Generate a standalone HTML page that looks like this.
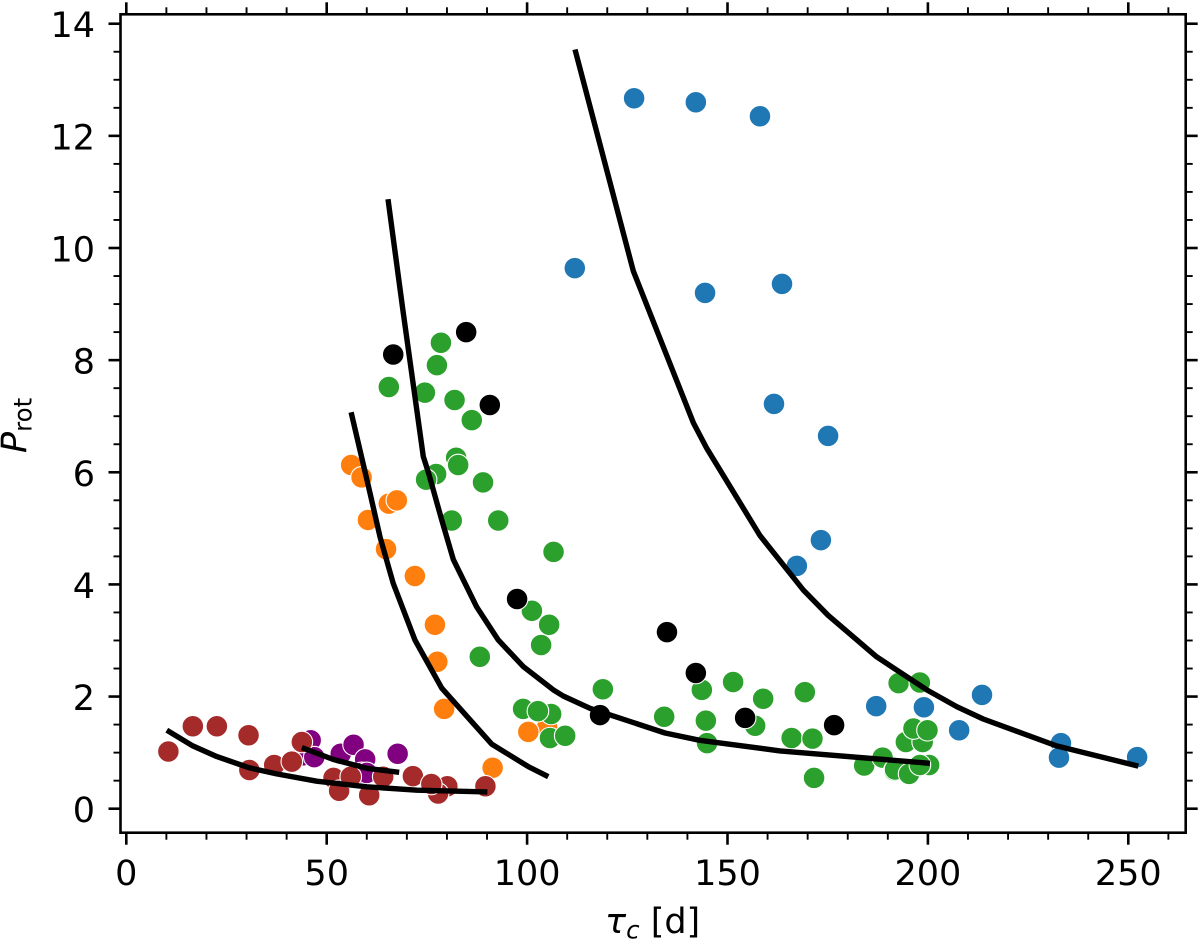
<!DOCTYPE html>
<html lang="en">
<head>
<meta charset="utf-8">
<title>Rotation period vs convective turnover time</title>
<style>
  html, body { margin: 0; padding: 0; background: #fff; }
  svg { display: block; }
  text { font-family: "DejaVu Sans", "Liberation Sans", sans-serif; fill: #000; }
</style>
</head>
<body>
<svg id="chart" xmlns="http://www.w3.org/2000/svg" width="1200" height="939" viewBox="0 0 1200 939">
  <rect x="0" y="0" width="1200" height="939" fill="#fff"></rect>
  <g id="ticks"></g>
  <g id="points"></g>
  <g id="curves"></g>
  <rect x="120.5" y="14.3" width="1065.2" height="818.4" fill="none" stroke="#000" stroke-width="2.6"></rect>
  <text x="605" y="933" font-size="35"><tspan font-style="italic">τ</tspan><tspan font-style="italic" font-size="24.5" dy="5.5">c</tspan><tspan dy="-5.5"> [d]</tspan></text>
  <text transform="translate(26 453) rotate(-90)" font-size="35"><tspan font-style="italic">P</tspan><tspan font-size="24.5" dy="5.5">rot</tspan></text>
</svg>
<script>
const xMajorTicks = [0, 50, 100, 150, 200, 250];
const xMinorTicks = [10, 20, 30, 40, 60, 70, 80, 90, 110, 120, 130, 140, 160, 170, 180, 190, 210, 220, 230, 240, 260];
const yMajorTicks = [0, 2, 4, 6, 8, 10, 12, 14];
const yMinorTicks = [0.5, 1, 1.5, 2.5, 3, 3.5, 4.5, 5, 5.5, 6.5, 7, 7.5, 8.5, 9, 9.5, 10.5, 11, 11.5, 12.5, 13, 13.5];

const orangeTau = [56.1, 58.7, 65.5, 67.5, 60.3, 64.8, 72, 77, 77.6, 79.3, 105, 100.3, 91.4];
const orangeProt = [6.13, 5.91, 5.44, 5.50, 5.15, 4.63, 4.15, 3.28, 2.62, 1.78, 1.45, 1.37, 0.73];

const greenTau = [78.5, 77.5, 65.5, 74.5, 81.9, 86.2, 82.3, 82.8, 77.3, 74.8, 89, 81.2, 92.8, 106.6, 101.2, 105.5, 103.5, 88.2, 118.9, 99, 106, 102.7, 105.7, 109.5, 134.2, 143.6, 151.4, 144.6, 144.9, 158.9, 156.9, 166, 171.2, 169.3, 171.6, 184.1, 188.7, 191.6, 191.8, 195.3, 200.3, 198, 192.7, 198, 194.5, 198.7, 196.4, 199.9];
const greenProt = [8.31, 7.91, 7.52, 7.42, 7.29, 6.93, 6.26, 6.13, 5.97, 5.87, 5.82, 5.14, 5.14, 4.58, 3.53, 3.28, 2.92, 2.71, 2.13, 1.78, 1.69, 1.74, 1.26, 1.30, 1.64, 2.12, 2.26, 1.57, 1.17, 1.96, 1.48, 1.26, 1.25, 2.08, 0.55, 0.77, 0.91, 0.68, 0.70, 0.62, 0.78, 0.78, 2.24, 2.25, 1.19, 1.19, 1.43, 1.40];

const blueTau = [126.7, 142.1, 158.1, 111.9, 144.4, 163.6, 161.6, 175.1, 173.3, 167.3, 187.1, 199, 207.8, 213.5, 233.2, 232.7, 252.2];
const blueProt = [12.67, 12.60, 12.35, 9.64, 9.20, 9.36, 7.22, 6.65, 4.79, 4.33, 1.83, 1.81, 1.40, 2.03, 1.17, 0.91, 0.92];

const blackTau = [66.6, 84.8, 90.7, 97.5, 134.9, 142.1, 118.2, 154.4, 176.6];
const blackProt = [8.10, 8.50, 7.20, 3.74, 3.15, 2.42, 1.67, 1.62, 1.49];

const purpleTau = [44, 46, 46.9, 53.5, 56.7, 59.6, 67.7, 58.7, 60];
const purpleProt = [0.95, 1.22, 0.92, 0.98, 1.14, 0.88, 0.98, 0.64, 0.64];

const brownTau = [10.5, 16.6, 22.6, 30.5, 30.7, 36.9, 41.3, 43.8, 51.7, 53.1, 56, 60.6, 64.1, 71.5, 80.1, 77.8, 76.1, 89.6];
const brownProt = [1.02, 1.47, 1.47, 1.31, 0.69, 0.78, 0.84, 1.19, 0.55, 0.32, 0.57, 0.24, 0.57, 0.58, 0.40, 0.27, 0.44, 0.40];

const curveBlueTau = [111.95, 126.5, 141.5, 144.8, 158.1, 168.9, 175.1, 187.2, 199.7, 207.2, 213.8, 232.1, 252.5];
const curveBlueProt = [13.54, 9.59, 6.88, 6.43, 4.87, 3.90, 3.45, 2.71, 2.12, 1.82, 1.60, 1.12, 0.76];

const curveGreenTau = [65.3, 69, 74.1, 75.4, 78.7, 81.6, 87.4, 92.8, 99.1, 106.5, 109, 115.7, 134.4, 143.1, 163.1, 200.5];
const curveGreenProt = [10.87, 8.89, 6.28, 5.99, 5.15, 4.44, 3.60, 3.01, 2.53, 2.12, 2.01, 1.79, 1.35, 1.22, 1.03, 0.81];

const curveOrangeTau = [56.1, 60.8, 63.3, 66.6, 72, 78.7, 91.2, 100.3, 105.3];
const curveOrangeProt = [7.07, 5.63, 4.85, 4.02, 3.01, 2.15, 1.15, 0.75, 0.57];

const curveBrownTau = [10.1, 16.6, 22.6, 30.7, 37.5, 47.5, 60, 72.5, 90.1];
const curveBrownProt = [1.40, 1.12, 0.93, 0.73, 0.62, 0.49, 0.39, 0.33, 0.30];

const curvePurpleTau = [43.8, 51.6, 60, 68.1];
const curvePurpleProt = [1.09, 0.88, 0.72, 0.65];

const NS = 'http://www.w3.org/2000/svg';
const frame = { left: 120.5, right: 1185.7, top: 14.3, bottom: 832.7 };
function xScale(v) { return 126.3 + v * 4.008; }
function yScale(v) { return 808.7 - v * 56.07; }

function make(tag, attrs, parent) {
  const el = document.createElementNS(NS, tag);
  for (const k in attrs) el.setAttribute(k, attrs[k]);
  parent.appendChild(el);
  return el;
}

const tickLayer = document.getElementById('ticks');

function drawXTick(v, len, width) {
  const x = xScale(v);
  const bottom = make('line', { x1: x, x2: x, y1: frame.bottom, y2: frame.bottom + len, stroke: '#000', 'stroke-width': width }, tickLayer);
  
  
  const top = make('line', { x1: x, x2: x, y1: frame.top, y2: frame.top - len, stroke: '#000', 'stroke-width': width }, tickLayer);
  
  
}

function drawYTick(v, len, width) {
  const y = yScale(v);
  const left = make('line', { x1: frame.left, x2: frame.left - len, y1: y, y2: y, stroke: '#000', 'stroke-width': width }, tickLayer);
  
  
  const right = make('line', { x1: frame.right, x2: frame.right + len, y1: y, y2: y, stroke: '#000', 'stroke-width': width }, tickLayer);
  
  
}

xMinorTicks.forEach(function (v) { drawXTick(v, 7, 1.9); });
yMinorTicks.forEach(function (v) { drawYTick(v, 7, 1.9); });

xMajorTicks.forEach(function (v) {
  drawXTick(v, 12, 2.6);
  const label = make('text', { x: xScale(v), y: 885, 'font-size': 35, 'text-anchor': 'middle' }, tickLayer);
  
  
  label.textContent = String(v);
});

yMajorTicks.forEach(function (v) {
  drawYTick(v, 12, 2.6);
  const label = make('text', { x: 95, y: yScale(v) + 13.5, 'font-size': 35, 'text-anchor': 'end' }, tickLayer);
  
  
  label.textContent = String(v);
});

const pointLayer = document.getElementById('points');

function drawPoints(taus, prots, color, name) {
  taus.forEach(function (t, i) {
    const c = make('circle', { cx: xScale(t), cy: yScale(prots[i]), r: 10.8, fill: color, stroke: '#fff', 'stroke-width': 1.1 }, pointLayer);
    
    
  });
}

drawPoints(orangeTau, orangeProt, '#ff7f0e', 'orange-point');
drawPoints(greenTau, greenProt, '#2ca02c', 'green-point');
drawPoints(blueTau, blueProt, '#1f77b4', 'blue-point');
drawPoints(blackTau, blackProt, '#000000', 'black-point');
drawPoints(purpleTau, purpleProt, '#800080', 'purple-point');
drawPoints(brownTau, brownProt, '#a52a2a', 'brown-point');

const curveLayer = document.getElementById('curves');

function drawCurve(taus, prots, name) {
  const pts = taus.map(function (t, i) { return xScale(t).toFixed(1) + ',' + yScale(prots[i]).toFixed(1); }).join(' ');
  const line = make('polyline', { points: pts, fill: 'none', stroke: '#000', 'stroke-width': 5.4, 'stroke-linejoin': 'round', 'stroke-linecap': 'butt' }, curveLayer);
  
  
}

drawCurve(curveBlueTau, curveBlueProt, 'blue-group-curve');
drawCurve(curveGreenTau, curveGreenProt, 'green-group-curve');
drawCurve(curveOrangeTau, curveOrangeProt, 'orange-group-curve');
drawCurve(curveBrownTau, curveBrownProt, 'brown-group-curve');
drawCurve(curvePurpleTau, curvePurpleProt, 'purple-group-curve');
</script>
</body>
</html>
